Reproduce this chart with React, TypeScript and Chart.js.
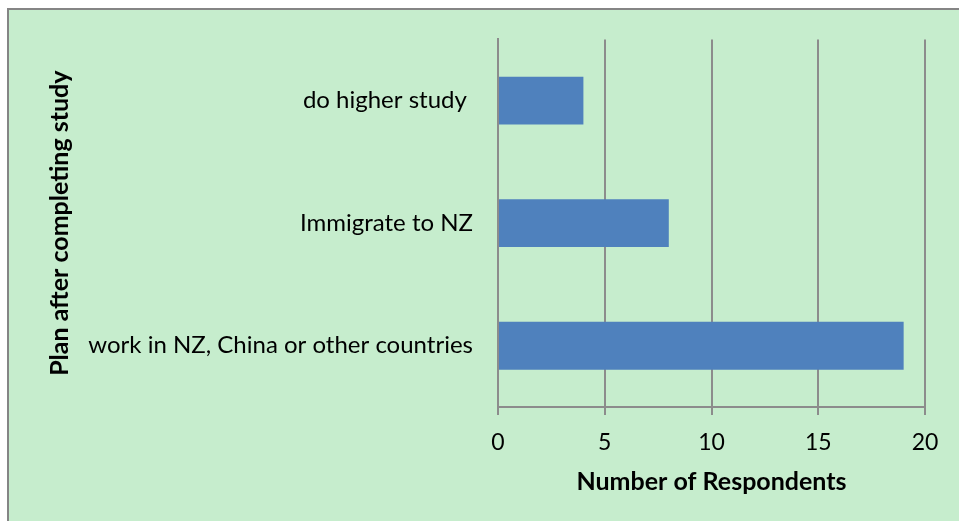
import React, { useEffect, useRef } from "react";
import { Chart, registerables } from "chart.js";

Chart.register(...registerables);

const categories = ["do higher study ", "Immigrate to NZ", "work in NZ, China or other countries"];
const respondents = [4, 8, 19];
const xTitle = "Number of Respondents";
const yTitle = "Plan after completing study";

const FONT = "Lato, 'Open Sans', sans-serif";

export default function App() {
  const ref = useRef<HTMLCanvasElement | null>(null);
  useEffect(() => {
    if (!ref.current) return;
    const chart = new Chart(ref.current, {
      type: "bar",
      data: {
        labels: categories,
        datasets: [
          {
            data: respondents,
            backgroundColor: "#4F81BD",
            borderWidth: 0,
            barPercentage: 0.39,
            categoryPercentage: 1,
          },
        ],
      },
      options: {
        indexAxis: "y",
        animation: false,
        responsive: false,
        maintainAspectRatio: false,
        layout: { padding: { left: 45, right: 34, top: 38, bottom: 0 } },
        plugins: { legend: { display: false }, tooltip: { enabled: false } },
        scales: {
          x: {
            min: 0,
            max: 20,
            ticks: { stepSize: 5, color: "#000", font: { family: FONT, size: 23 }, padding: 14 },
            grid: { color: "#8C8C8C", lineWidth: 2, tickLength: 8, drawTicks: true },
            border: { color: "#8C8C8C", width: 2 },
            title: {
              display: true,
              text: xTitle,
              color: "#000",
              font: { family: FONT, size: 25, weight: "bold" },
              padding: { top: 0, bottom: 24 },
            },
            afterFit: (s: any) => {
              s.height = 114;
            },
          },
          y: {
            ticks: { color: "#000", font: { family: FONT, size: 24 }, padding: 25 },
            grid: { display: false, drawTicks: false },
            border: { color: "#8C8C8C", width: 2 },
            title: {
              display: true,
              text: yTitle,
              color: "#000",
              font: { family: FONT, size: 25, weight: "bold" },
              padding: 0,
            },
            afterFit: (s: any) => {
              s.width = 498 - 45;
            },
          },
        },
      },
    });
    return () => chart.destroy();
  }, []);

  return (
    <div style={{ position: "fixed", left: 0, top: 0, width: 959, height: 521, overflow: "hidden", background: "#fff" }}>
      <div
        style={{
          position: "absolute",
          left: 7,
          top: 8,
          width: 1000,
          height: 600,
          background: "#C6EDCD",
          borderLeft: "2px solid #858585",
          borderTop: "2px solid #858585",
        }}
      />
      <canvas ref={ref} width={959} height={521} style={{ position: "absolute", left: 0, top: 0 }} />
    </div>
  );
}
